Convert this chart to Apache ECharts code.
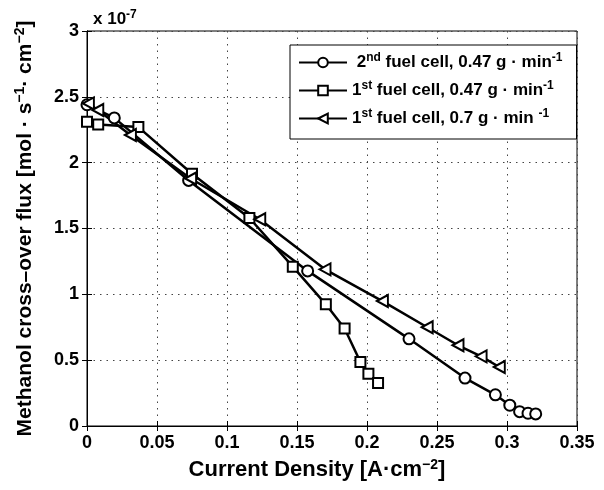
<!DOCTYPE html>
<html style="height: 100%">
<head>
  <meta charset="utf-8">
  <script src="https://cdn.jsdelivr.net/npm/echarts/dist/echarts.min.js"></script>
</head>
<body style="height: 100%; margin: 0; background: #fff">
  <div id="main" style="width: 604px; height: 490px"></div>
  <script type="text/javascript">
    // data (flux in units of 1e-7 mol/s/cm2)
    var circleX = [0, 0.0195, 0.0726, 0.1576, 0.230, 0.270, 0.2917, 0.302, 0.309, 0.315, 0.3205];
    var circleY = [2.44, 2.34, 1.865, 1.178, 0.662, 0.364, 0.237, 0.158, 0.109, 0.097, 0.092];
    var squareX = [0, 0.008, 0.0367, 0.075, 0.116, 0.147, 0.1706, 0.184, 0.1953, 0.201, 0.2079];
    var squareY = [2.31, 2.29, 2.27, 1.916, 1.58, 1.21, 0.924, 0.74, 0.486, 0.397, 0.326];
    var triX = [0.001, 0.0077, 0.031, 0.074, 0.1234, 0.170, 0.211, 0.243, 0.265, 0.2815, 0.2945];
    var triY = [2.45, 2.40, 2.21, 1.88, 1.57, 1.19, 0.949, 0.750, 0.613, 0.529, 0.448];
    var seriesNames = ['2nd, 0.47', '1st, 0.47', '1st, 0.7'];

    function pairs(xs, ys) {
      return xs.map(function (x, i) { return [x, ys[i]]; });
    }

    var font = 'Liberation Sans, Arial, Helvetica, sans-serif';
    var sup = { fontSize: 12, fontWeight: 'bold', fontFamily: font, color: '#000', verticalAlign: 'top', padding: [0, 0, 9, 0] };
    var reg = { fontSize: 17, fontWeight: 'bold', fontFamily: font, color: '#000' };

    var legendText = {};
    legendText[seriesNames[0]] = '{r| 2}{s|nd}{r| fuel cell, 0.47 g · min}{s|-1}';
    legendText[seriesNames[1]] = '{r|1}{s|st}{r| fuel cell, 0.47 g · min}{s|-1}';
    legendText[seriesNames[2]] = '{r|1}{s|st}{r| fuel cell, 0.7 g · min }{s|-1}';

    var gridLine = { show: true, lineStyle: { color: '#444', type: [1.5, 5], width: 1 } };
    var tick = { show: true, inside: true, length: 5, lineStyle: { color: '#000' } };

    var myChart = echarts.init(document.getElementById('main'));
    var option = {
      backgroundColor: '#fff',
      animation: false,
      title: {
        text: '{a|x 10}{b|-7}',
        left: 88, top: 4,
        textStyle: { rich: {
          a: { fontSize: 17, fontWeight: 'bold', fontFamily: font, color: '#000' },
          b: { fontSize: 12, fontWeight: 'bold', fontFamily: font, color: '#000', verticalAlign: 'top', padding: [0, 0, 9, 0] }
        } }
      },
      grid: { left: 87, right: 27, top: 31, bottom: 64, show: true, borderColor: '#000', borderWidth: 1 },
      legend: {
        orient: 'vertical',
        left: 290, top: 45,
        width: 283,
        backgroundColor: '#fff',
        borderColor: '#000', borderWidth: 1,
        padding: [7, 14, 12, 8],
        itemGap: 9,
        itemWidth: 48, itemHeight: 12,
        data: seriesNames,
        formatter: function (name) { return legendText[name]; },
        textStyle: { rich: { r: reg, s: sup } }
      },
      xAxis: [{
        type: 'value', min: 0, max: 0.35, interval: 0.05,
        name: '{r|Current Density [A·cm}{s|−2}{r|]}',
        nameLocation: 'middle', nameGap: 32,
        nameTextStyle: { padding: [0, 30, 0, 0], rich: {
          r: { fontSize: 22, fontWeight: 'bold', fontFamily: font, color: '#000' },
          s: { fontSize: 14, fontWeight: 'bold', fontFamily: font, color: '#000', verticalAlign: 'top', padding: [0, 0, 10, 0] }
        } },
        axisLine: { show: true, onZero: false, lineStyle: { color: '#000' } },
        axisTick: tick,
        axisLabel: { fontSize: 18, fontWeight: 'bold', fontFamily: font, color: '#000', margin: 8,
          formatter: function (v) { return String(+v.toFixed(2)); } },
        splitLine: gridLine
      }, {
        type: 'value', position: 'top', min: 0, max: 0.35, interval: 0.05,
        axisLine: { show: true, lineStyle: { color: '#000' } },
        axisTick: tick, axisLabel: { show: false }, splitLine: { show: false }
      }],
      yAxis: [{
        type: 'value', min: 0, max: 3, interval: 0.5,
        name: '{r|Methanol cross–over flux [mol · s}{s|−1}{r|· cm}{s|−2}{r|]}',
        nameLocation: 'middle', nameGap: 50, nameRotate: 90,
        nameTextStyle: { rich: {
          r: { fontSize: 21, fontWeight: 'bold', fontFamily: font, color: '#000' },
          s: { fontSize: 14, fontWeight: 'bold', fontFamily: font, color: '#000', verticalAlign: 'top', padding: [0, 0, 10, 0] }
        } },
        axisLine: { show: true, onZero: false, lineStyle: { color: '#000' } },
        axisTick: tick,
        axisLabel: { fontSize: 18, fontWeight: 'bold', fontFamily: font, color: '#000', margin: 8 },
        splitLine: gridLine
      }, {
        type: 'value', position: 'right', min: 0, max: 3, interval: 0.5,
        axisLine: { show: true, lineStyle: { color: '#000' } },
        axisTick: tick, axisLabel: { show: false }, splitLine: { show: false }
      }],
      series: [{
        name: seriesNames[0], type: 'line', data: pairs(circleX, circleY),
        symbol: 'circle', symbolSize: 11, clip: false,
        lineStyle: { color: '#000', width: 2.5 },
        itemStyle: { color: '#fff', borderColor: '#000', borderWidth: 2 }
      }, {
        name: seriesNames[1], type: 'line', data: pairs(squareX, squareY),
        symbol: 'rect', symbolSize: 10, clip: false,
        lineStyle: { color: '#000', width: 2.5 },
        itemStyle: { color: '#fff', borderColor: '#000', borderWidth: 2 }
      }, {
        name: seriesNames[2], type: 'line', data: pairs(triX, triY),
        symbol: 'path://M0,5 L9,0 L9,10 Z', symbolSize: [11, 12], clip: false,
        lineStyle: { color: '#000', width: 2.5 },
        itemStyle: { color: '#fff', borderColor: '#000', borderWidth: 2 }
      }]
    };
    myChart.setOption(option);
  </script>
</body>
</html>
